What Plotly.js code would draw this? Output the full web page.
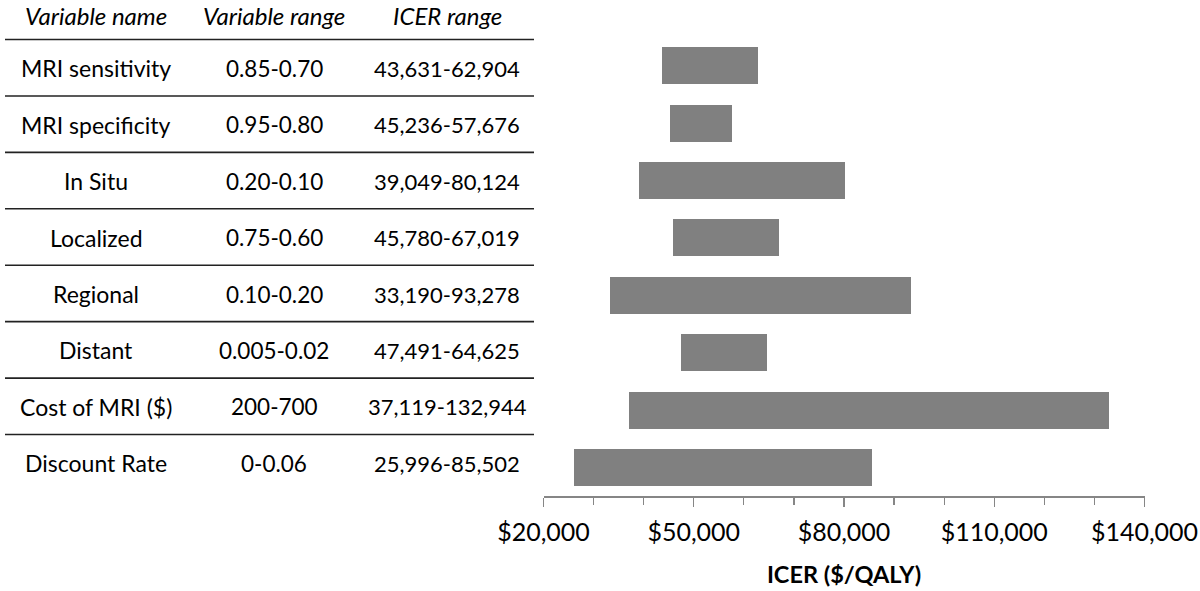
<!DOCTYPE html>
<html>
<head>
<meta charset="utf-8">
<script src="https://cdn.plot.ly/plotly-3.0.1.min.js"></script>
<style>
  html, body { margin: 0; padding: 0; background: #fff; }
  #chart { width: 1200px; height: 591px; }
</style>
</head>
<body>
<div id="chart"></div>
<script>
// ---- data ----
const variableNames = ["MRI sensitivity", "MRI specificity", "In Situ", "Localized", "Regional", "Distant", "Cost of MRI ($)", "Discount Rate"];
const variableRanges = ["0.85-0.70", "0.95-0.80", "0.20-0.10", "0.75-0.60", "0.10-0.20", "0.005-0.02", "200-700", "0-0.06"];
const icerLow  = [43631, 45236, 39049, 45780, 33190, 47491, 37119, 25996];
const icerHigh = [62904, 57676, 80124, 67019, 93278, 64625, 132944, 85502];
const headers = ["Variable name", "Variable range", "ICER range"];
const xAxisTitle = "ICER ($/QALY)";

// ---- layout constants ----
const W = 1200, H = 591;
const FONT = "Lato, 'Open Sans', sans-serif";
const colX = [96, 274, 447];          // column centres (px)
const colSize = [23, 22.5, 22];       // body font sizes per column
const headSize = 24;
const rowY0 = 68.3, rowStep = 56.43;  // text row centres (px)
const lineY0 = 39.5;                   // first rule (px)
const px2x = p => p / W;
const px2y = p => 1 - p / H;

const fmt = v => v.toLocaleString("en-US");
const icerText = icerLow.map((lo, i) => fmt(lo) + "-" + fmt(icerHigh[i]));

const trace = {
  type: "bar",
  orientation: "h",
  y: variableNames,
  base: icerLow,
  x: icerHigh.map((hi, i) => hi - icerLow[i]),
  width: 0.645,
  marker: { color: "#808080", line: { width: 0 } },
  hoverinfo: "skip",
  showlegend: false
};

const annotations = [];
headers.forEach((h, c) => {
  annotations.push({
    xref: "paper", yref: "paper", x: px2x(colX[c]), y: 1,
    text: "<i>" + h + "</i>", showarrow: false, xanchor: "center", yanchor: "top",
    borderpad: 0,
    font: { family: FONT, size: headSize, color: "#000" }
  });
});
variableNames.forEach((n, i) => {
  const cells = [n, variableRanges[i], icerText[i]];
  cells.forEach((t, c) => {
    annotations.push({
      xref: "paper", yref: "paper", x: px2x(colX[c]), y: px2y(rowY0 + rowStep * i),
      text: t, showarrow: false, xanchor: "center", yanchor: "middle",
      font: { family: FONT, size: colSize[c], color: "#000" }
    });
  });
});

const shapes = [];
for (let k = 0; k < variableNames.length; k++) {
  const yy = px2y(lineY0 + rowStep * k);
  shapes.push({
    type: "line", xref: "paper", yref: "paper",
    x0: px2x(5), x1: px2x(534), y0: yy, y1: yy,
    line: { color: "#222", width: 1.6 }
  });
}

const layout = {
  width: W, height: H,
  margin: { l: 0, r: 0, t: 0, b: 0, pad: 0 },
  paper_bgcolor: "#fff", plot_bgcolor: "#fff",
  font: { family: FONT, size: 20, color: "#000" },
  bargap: 0,
  xaxis: {
    domain: [543.5 / W, 1144.5 / W],
    range: [20000, 140000],
    tick0: 20000, dtick: 30000,
    tickprefix: "$", tickformat: ",d",
    ticks: "outside", ticklen: 9, tickwidth: 1.3, tickcolor: "#868686",
    ticklabelstandoff: 4,
    minor: { dtick: 10000, tick0: 20000, ticks: "outside", ticklen: 7, tickwidth: 1.3, tickcolor: "#868686", showgrid: false },
    showline: true, linecolor: "#868686", linewidth: 1.5,
    showgrid: false, zeroline: false,
    tickfont: { family: FONT, size: 25, color: "#000" },
    title: { text: "<b>" + xAxisTitle + "</b>", font: { family: FONT, size: 23.5, color: "#000" }, standoff: 22 },
    fixedrange: true
  },
  yaxis: {
    domain: [(H - 496) / H, 1],
    type: "category",
    range: [7.497, -1.147],
    showticklabels: false, ticks: "", showline: false, showgrid: false, zeroline: false,
    fixedrange: true
  },
  annotations: annotations,
  shapes: shapes
};

Plotly.newPlot("chart", [trace], layout, { displayModeBar: false, staticPlot: true });
</script>
</body>
</html>
